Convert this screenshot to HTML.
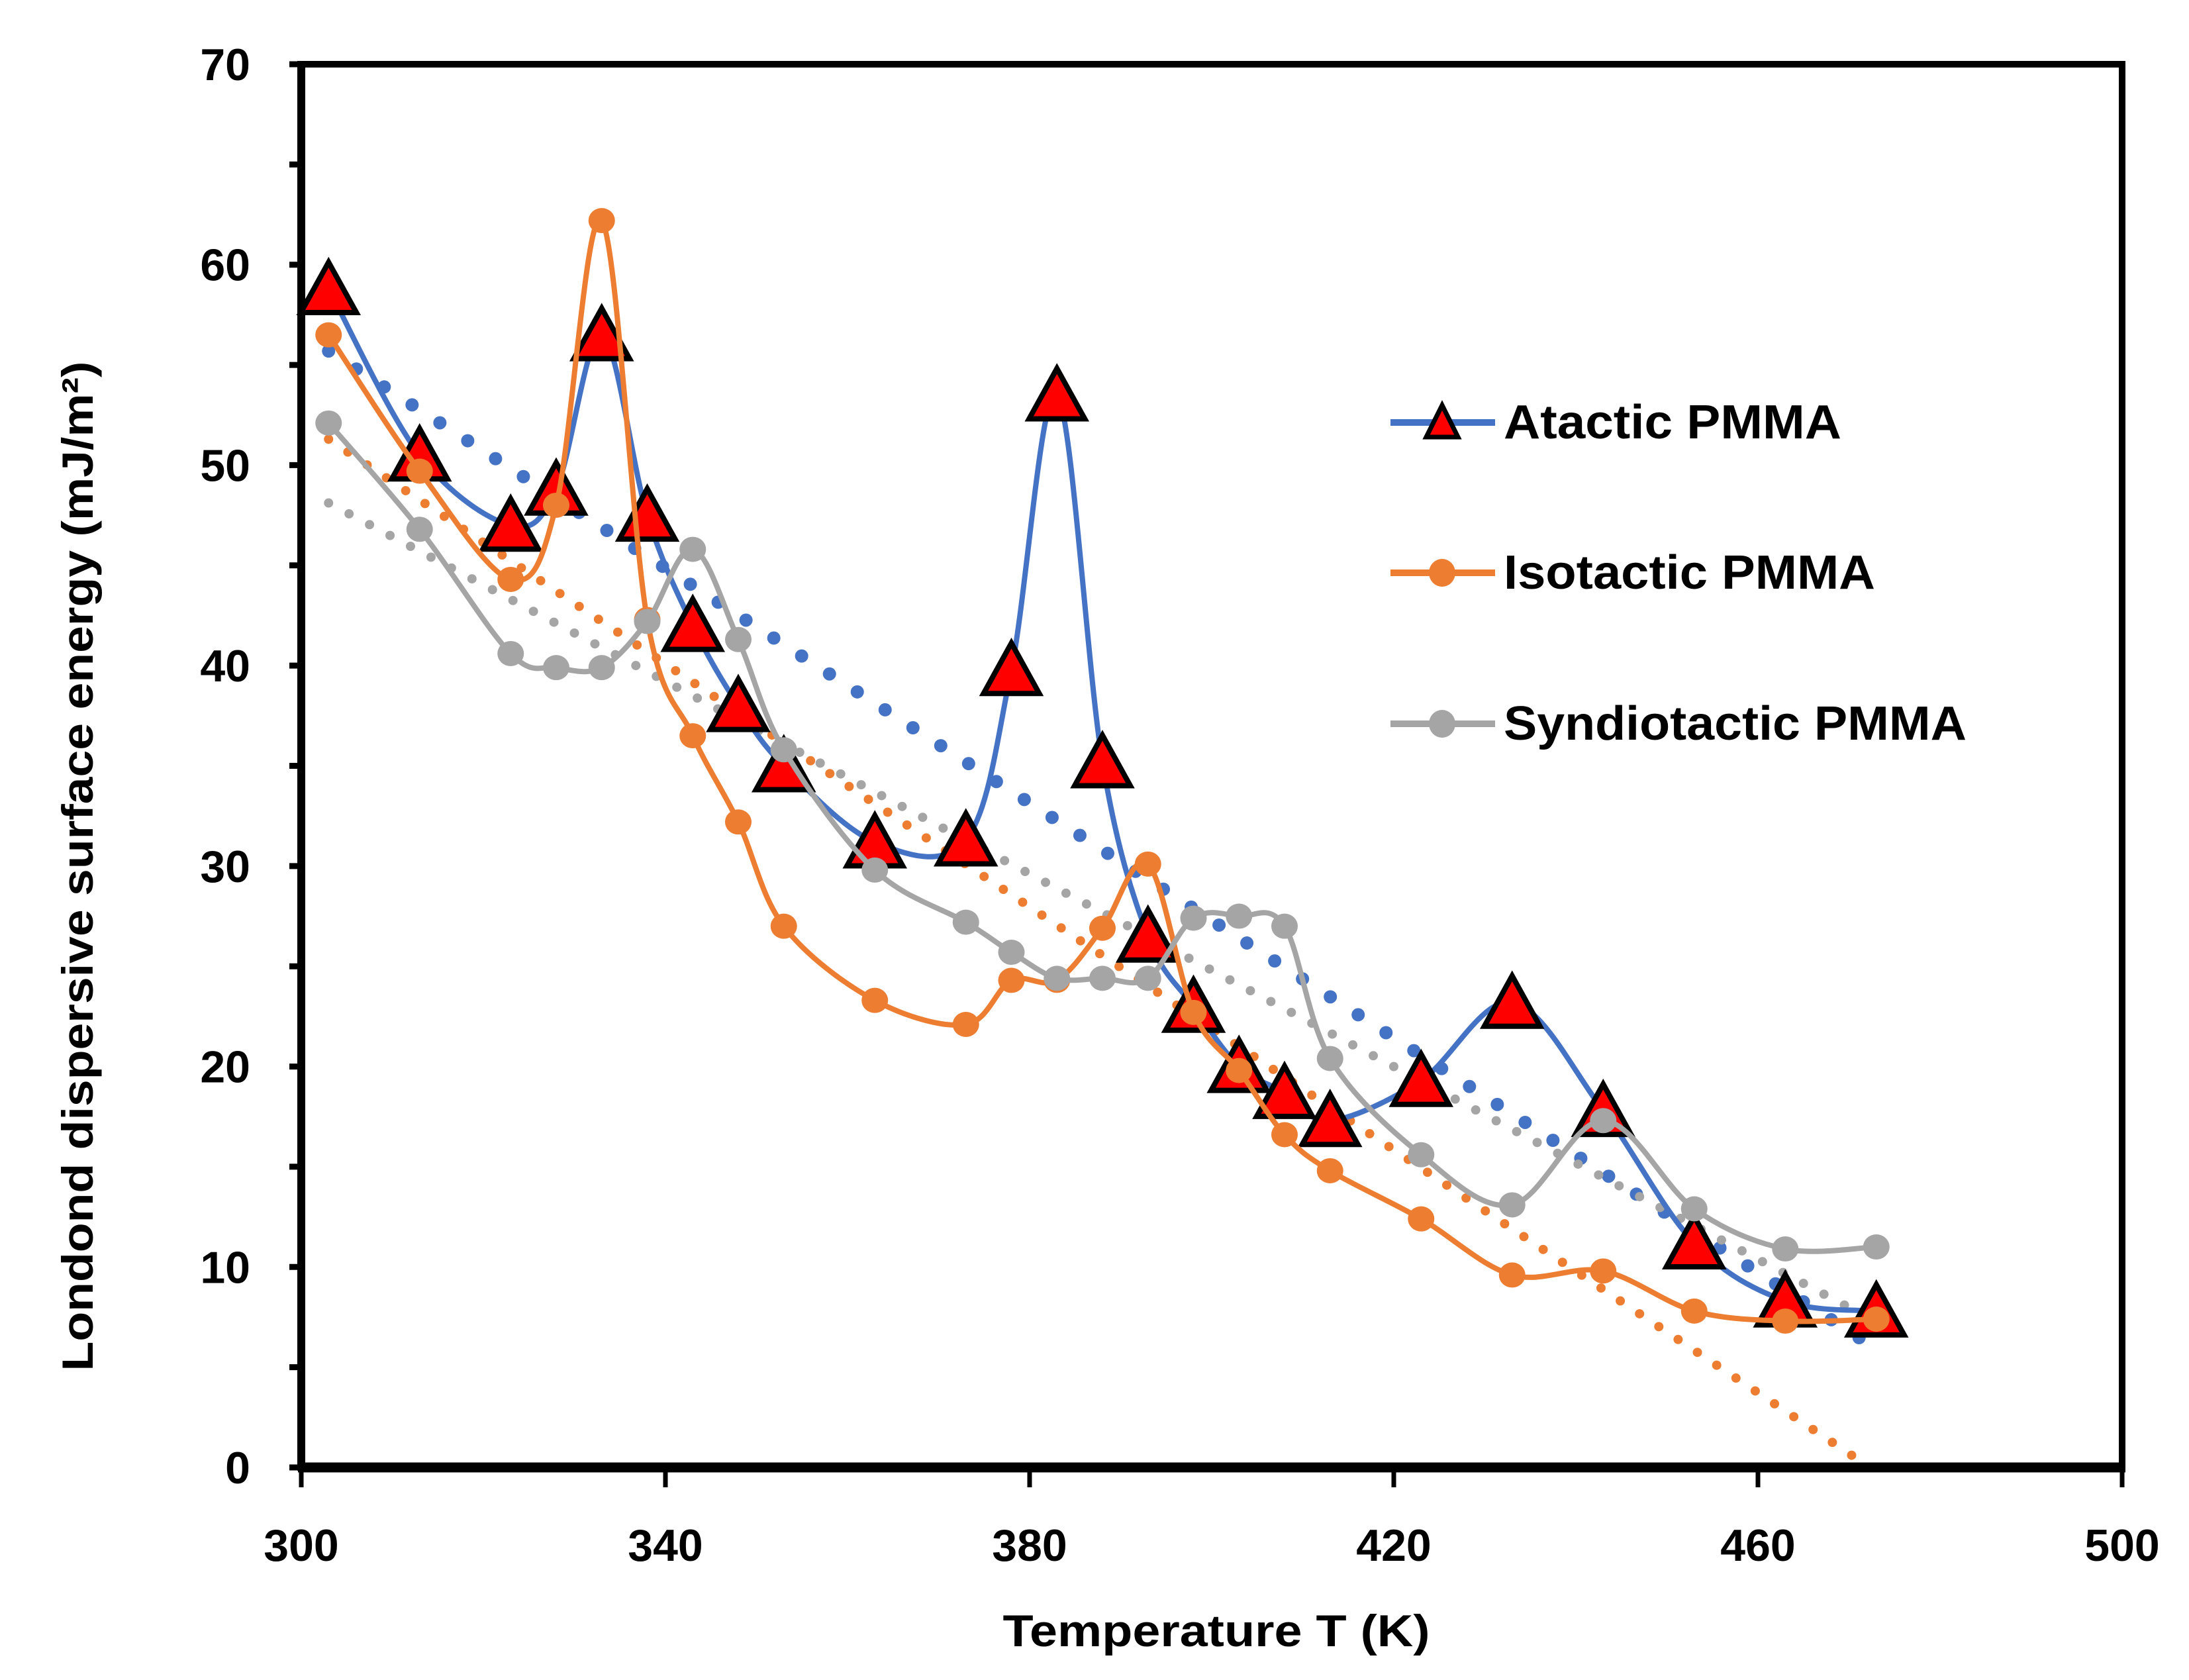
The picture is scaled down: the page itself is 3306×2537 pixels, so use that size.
<!DOCTYPE html>
<html><head><meta charset="utf-8"><style>
html,body{margin:0;padding:0;background:#fff;}
svg{display:block;}
text{font-family:"Liberation Sans",sans-serif;font-weight:bold;fill:#000;}
</style></head><body>
<svg id="chart" width="3306" height="2537" viewBox="0 0 3306 2537" xmlns="http://www.w3.org/2000/svg">
<g id="trends"></g>
<g id="series"></g>
<g id="axes"></g>
<g id="legend"></g>
<text transform="translate(140,1308) rotate(-90)" text-anchor="middle" font-size="66" textLength="1525" lengthAdjust="spacingAndGlyphs">Londond dispersive surface energy (mJ/m²)</text>
<text x="1837" y="2486" text-anchor="middle" font-size="68" textLength="645" lengthAdjust="spacingAndGlyphs">Temperature T (K)</text>
</svg>
<script>
const temps = [303,313,323,328,333,338,343,348,353,363,373,378,383,388,393,398,403,408,413,423,433,443,453,463,473];
const atactic = [58.8,50.5,47,48.8,56.5,47.5,42,38,35,31.2,31.3,39.8,53.5,35.2,26.5,23,20,18.7,17.3,19.3,23.2,17.8,11.2,8.3,7.8];
const isotactic = [56.5,49.7,44.3,48,62.2,42.3,36.5,32.2,27,23.3,22.1,24.3,24.3,26.9,30.1,22.7,19.8,16.6,14.8,12.4,9.6,9.8,7.8,7.3,7.4];
const syndiotactic = [52.1,46.8,40.6,39.9,39.9,42.2,45.8,41.3,35.8,29.8,27.2,25.7,24.4,24.4,24.4,27.4,27.5,27,20.4,15.6,13.1,17.3,12.9,10.9,11];
const xTicks = [300,340,380,420,460,500];
const yTicks = [0,10,20,30,40,50,60,70];
const legendLabels = ["Atactic PMMA","Isotactic PMMA","Syndiotactic PMMA"];

const X0=455,X1=3205,Y0=2216,Y1=97;
const xs=v=>X0+(v-300)/200*(X1-X0);
const ys=v=>Y0-v/70*(Y0-Y1);
const NS="http://www.w3.org/2000/svg";
function mk(tag,attrs,parent){const e=document.createElementNS(NS,tag);for(const k in attrs)e.setAttribute(k,attrs[k]);parent.appendChild(e);return e;}

function smooth(pts){
  let d=`M${pts[0][0]},${pts[0][1]}`;
  for(let i=0;i<pts.length-1;i++){
    const p0=pts[Math.max(0,i-1)],p1=pts[i],p2=pts[i+1],p3=pts[Math.min(pts.length-1,i+2)];
    const t=1/6;
    const c1=[p1[0]+(p2[0]-p0[0])*t,p1[1]+(p2[1]-p0[1])*t];
    const c2=[p2[0]-(p3[0]-p1[0])*t,p2[1]-(p3[1]-p1[1])*t];
    d+=` C${c1[0]},${c1[1]} ${c2[0]},${c2[1]} ${p2[0]},${p2[1]}`;
  }
  return d;
}
function regress(xv,yv){
  const n=xv.length;let sx=0,sy=0,sxx=0,sxy=0;
  for(let i=0;i<n;i++){sx+=xv[i];sy+=yv[i];sxx+=xv[i]*xv[i];sxy+=xv[i]*yv[i];}
  const b=(n*sxy-sx*sy)/(n*sxx-sx*sx);const a=(sy-b*sx)/n;return [a,b];
}

const trends=document.getElementById('trends');
const series=document.getElementById('series');
const cfg=[
 {name:'atactic',vals:atactic,color:'#4472C4',dw:20,dp:'0 50'},
 {name:'isotactic',vals:isotactic,color:'#ED7D31',dw:14,dp:'0 35'},
 {name:'syndiotactic',vals:syndiotactic,color:'#A5A5A5',dw:14,dp:'0 35'}
];
cfg.forEach(c=>{
  const [a,b]=regress(temps,c.vals);
  let xa=temps[0],xb=temps[temps.length-1];
  if(a+b*xb<0) xb=-a/b;
  const tl=mk('line',{x1:xs(xa),y1:ys(a+b*xa),x2:xs(xb),y2:ys(a+b*xb),stroke:c.color,'stroke-width':c.dw,'stroke-linecap':'round','stroke-dasharray':c.dp},trends);
  
  
});
cfg.forEach(c=>{
  const g=mk('g',{},series);
  
  
  const pts=temps.map((t,i)=>[xs(t),ys(c.vals[i])]);
  const p=mk('path',{d:smooth(pts),fill:'none',stroke:c.color,'stroke-width':8,'stroke-linejoin':'round'},g);
  
  
  pts.forEach(([x,y])=>{
    let m;
    if(c.name==='atactic'){
      m=mk('polygon',{points:`${x},${y-40} ${x-42},${y+36} ${x+42},${y+36}`,fill:'#FF0000',stroke:'#000','stroke-width':8,'stroke-linejoin':'miter'},g);
    } else {
      m=mk('ellipse',{cx:x,cy:y,rx:20,ry:19,fill:c.color},g);
    }
    
    
  });
});

const axes=document.getElementById('axes');
const frame=mk('rect',{x:X0,y:Y1,width:X1-X0,height:Y0-Y1,fill:'none',stroke:'#000','stroke-width':10},axes);


const xa=mk('line',{x1:X0-5,y1:Y0,x2:X1+5,y2:Y0,stroke:'#000','stroke-width':15},axes);


const ya=mk('line',{x1:X0,y1:Y1-5,x2:X0,y2:Y0+5,stroke:'#000','stroke-width':12},axes);


xTicks.forEach(v=>{
  const t=mk('line',{x1:xs(v),y1:Y0,x2:xs(v),y2:Y0+30,stroke:'#000','stroke-width':7},axes);
  
  
  const l=mk('text',{x:xs(v),y:2357,'text-anchor':'middle','font-size':68},axes);
  l.textContent=v;
  
  
});
for(let v=0;v<=70;v+=5){
  const t=mk('line',{x1:X0-18,y1:ys(v),x2:X0,y2:ys(v),stroke:'#000','stroke-width':9},axes);
  
  
}
yTicks.forEach(v=>{
  const l=mk('text',{x:378,y:ys(v)+24,'text-anchor':'end','font-size':68},axes);
  l.textContent=v;
  
  
});

const legend=document.getElementById('legend');
const ly=[638,865,1093],lw=[510,561,699];
cfg.forEach((c,i)=>{
  const g=mk('g',{},legend);
  
  
  mk('line',{x1:2100,y1:ly[i],x2:2258,y2:ly[i],stroke:c.color,'stroke-width':10},g);
  const cx=2178,y=ly[i];
  if(i===0) mk('polygon',{points:`${cx},${y-26} ${cx-24},${y+22} ${cx+24},${y+22}`,fill:'#FF0000',stroke:'#000','stroke-width':7},g);
  else mk('ellipse',{cx:cx,cy:y,rx:20,ry:21,fill:c.color},g);
  const t=mk('text',{x:2271,y:y+24,'font-size':72,textLength:lw[i],lengthAdjust:'spacingAndGlyphs'},g);
  t.textContent=legendLabels[i];
});
</script>
</body></html>
